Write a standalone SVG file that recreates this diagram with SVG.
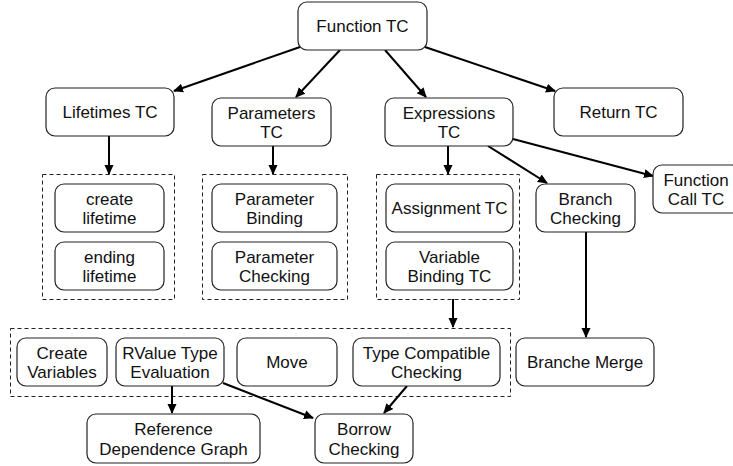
<svg xmlns="http://www.w3.org/2000/svg" width="733" height="466" viewBox="0 0 733 466">
<defs>
<marker id="ah" markerWidth="10" markerHeight="10" refX="9" refY="5" orient="auto" markerUnits="userSpaceOnUse">
<path d="M0,0.5 L10,5 L0,9.5 Z" fill="#000"/>
</marker>
<style>
.n{fill:#fff;stroke:#222;stroke-width:1.2}
.g{fill:none;stroke:#222;stroke-width:1;stroke-dasharray:4,3}
text{font-family:"Liberation Sans",Arial,Helvetica,sans-serif;font-size:17px;fill:#111;text-anchor:middle}
.e{stroke:#000;stroke-width:2;fill:none;marker-end:url(#ah)}
</style>
</defs>
<rect width="733" height="466" fill="#fff"/>
<g id="groups">
<rect class="g" x="42.5" y="174.5" width="132" height="125"/>
<rect class="g" x="202.5" y="174.5" width="145" height="125"/>
<rect class="g" x="376.5" y="174.5" width="143" height="125"/>
<rect class="g" x="10.5" y="328.5" width="500" height="68"/>
</g>
<g id="connectors">
<line class="e" x1="300" y1="47" x2="174" y2="91"/>
<line class="e" x1="340" y1="50" x2="296" y2="97"/>
<line class="e" x1="385" y1="50" x2="426" y2="97"/>
<line class="e" x1="425" y1="47" x2="555" y2="91"/>
<line class="e" x1="109" y1="136" x2="109" y2="174"/>
<line class="e" x1="273" y1="146" x2="273" y2="174"/>
<line class="e" x1="448" y1="146" x2="448" y2="174"/>
<line class="e" x1="488" y1="146" x2="547" y2="183"/>
<line class="e" x1="513" y1="139" x2="653" y2="176"/>
<line class="e" x1="586" y1="232" x2="586" y2="337"/>
<line class="e" x1="453" y1="299" x2="453" y2="327"/>
<line class="e" x1="172" y1="386" x2="172" y2="413"/>
<line class="e" x1="223" y1="383" x2="313" y2="418"/>
<line class="e" x1="407" y1="386" x2="384" y2="413"/>
</g>
<g id="function-tc"><rect class="n" x="298" y="2" width="129" height="48" rx="9"/><text x="362.5" y="32">Function TC</text></g>
<g id="lifetimes-tc"><rect class="n" x="46" y="88" width="128" height="48" rx="9"/><text x="110" y="118">Lifetimes TC</text></g>
<g id="parameters-tc"><rect class="n" x="212" y="98" width="119" height="48" rx="9"/><text x="271.5" y="119">Parameters</text><text x="271.5" y="138">TC</text></g>
<g id="expressions-tc"><rect class="n" x="385" y="98" width="128" height="48" rx="9"/><text x="449" y="119">Expressions</text><text x="449" y="138">TC</text></g>
<g id="return-tc"><rect class="n" x="554" y="88" width="129" height="48" rx="9"/><text x="618.5" y="118">Return TC</text></g>
<g id="create-lifetime"><rect class="n" x="55" y="184" width="109" height="48" rx="9"/><text x="109.5" y="205">create</text><text x="109.5" y="224">lifetime</text></g>
<g id="ending-lifetime"><rect class="n" x="55" y="242" width="109" height="48" rx="9"/><text x="109.5" y="263">ending</text><text x="109.5" y="282">lifetime</text></g>
<g id="parameter-binding"><rect class="n" x="212" y="184" width="125" height="48" rx="9"/><text x="274.5" y="205">Parameter</text><text x="274.5" y="224">Binding</text></g>
<g id="parameter-checking"><rect class="n" x="212" y="242" width="125" height="48" rx="9"/><text x="274.5" y="263">Parameter</text><text x="274.5" y="282">Checking</text></g>
<g id="assignment-tc"><rect class="n" x="386" y="184" width="127" height="48" rx="9"/><text x="449.5" y="214">Assignment TC</text></g>
<g id="variable-binding-tc"><rect class="n" x="386" y="242" width="127" height="48" rx="9"/><text x="449.5" y="263">Variable</text><text x="449.5" y="282">Binding TC</text></g>
<g id="branch-checking"><rect class="n" x="536" y="184" width="99" height="48" rx="9"/><text x="585.5" y="205">Branch</text><text x="585.5" y="224">Checking</text></g>
<g id="function-call-tc"><rect class="n" x="653" y="165" width="88" height="48" rx="9"/><text x="696" y="186">Function</text><text x="696" y="205">Call TC</text></g>
<g id="create-variables"><rect class="n" x="17" y="338" width="90" height="48" rx="9"/><text x="62" y="359">Create</text><text x="62" y="378">Variables</text></g>
<g id="rvalue-type-evaluation"><rect class="n" x="116" y="338" width="108" height="48" rx="9"/><text x="170" y="359">RValue Type</text><text x="170" y="378">Evaluation</text></g>
<g id="move"><rect class="n" x="237" y="338" width="100" height="48" rx="9"/><text x="287" y="368">Move</text></g>
<g id="type-compatible-checking"><rect class="n" x="353" y="338" width="147" height="48" rx="9"/><text x="426.5" y="359">Type Compatible</text><text x="426.5" y="378">Checking</text></g>
<g id="branche-merge"><rect class="n" x="516" y="338" width="138" height="48" rx="9"/><text x="585" y="368">Branche Merge</text></g>
<g id="reference-dependence-graph"><rect class="n" x="87" y="414" width="173" height="49" rx="9"/><text x="173.5" y="435">Reference</text><text x="173.5" y="455">Dependence Graph</text></g>
<g id="borrow-checking"><rect class="n" x="315" y="414" width="98" height="49" rx="9"/><text x="364" y="435">Borrow</text><text x="364" y="455">Checking</text></g>
</svg>
